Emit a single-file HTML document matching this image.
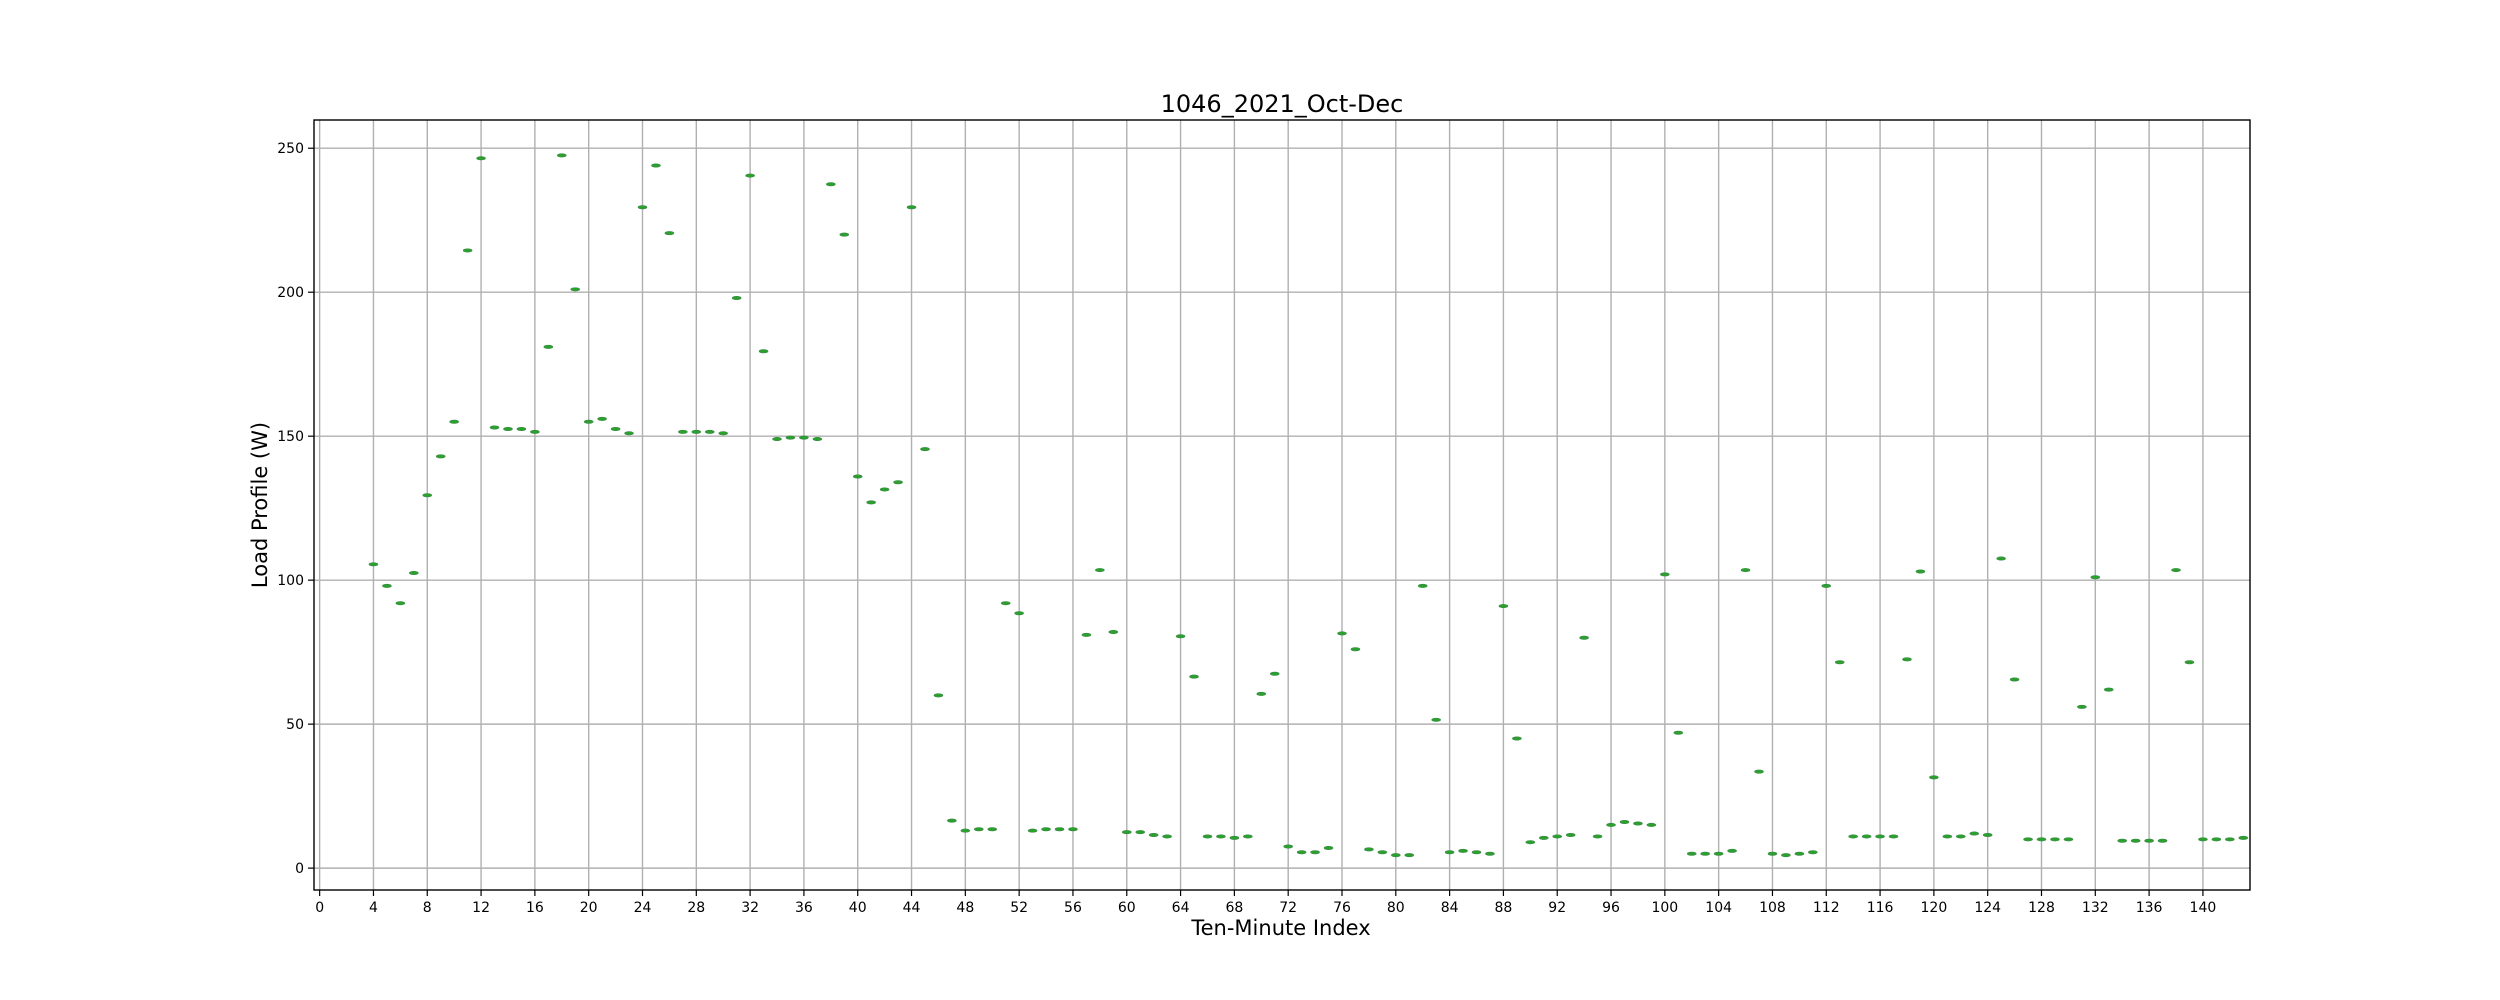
<!DOCTYPE html>
<html><head><meta charset="utf-8"><style>
html,body{margin:0;padding:0;background:#fff;width:2500px;height:1000px;overflow:hidden}
svg text{font-family:"DejaVu Sans","Liberation Sans",sans-serif;fill:#000}
</style></head><body>
<svg id="chart" width="2500" height="1000" xmlns="http://www.w3.org/2000/svg">
<rect x="0" y="0" width="2500" height="1000" fill="#fff"/>
<g id="grid"></g>
<g id="marks"></g>
<g id="axes"></g>
<text x="1282" y="112" font-size="24" text-anchor="middle">1046_2021_Oct-Dec</text>
<text x="1281" y="935" font-size="21" text-anchor="middle">Ten-Minute Index</text>
<text x="0" y="0" font-size="21" text-anchor="middle" transform="translate(267,505) rotate(-90)">Load Profile (W)</text>
</svg>
<script>
const xIndex = [4,5,6,7,8,9,10,11,12,13,14,15,16,17,18,19,20,21,22,23,24,25,26,27,28,29,30,31,32,33,34,35,36,37,38,39,40,41,42,43,44,45,46,47,48,49,50,51,52,53,54,55,56,57,58,59,60,61,62,63,64,65,66,67,68,69,70,71,72,73,74,75,76,77,78,79,80,81,82,83,84,85,86,87,88,89,90,91,92,93,94,95,96,97,98,99,100,101,102,103,104,105,106,107,108,109,110,111,112,113,114,115,116,117,118,119,120,121,122,123,124,125,126,127,128,129,130,131,132,133,134,135,136,137,138,139,140,141,142,143];
const loadValues = [105.5,98,92,102.5,129.5,143,155,214.5,246.5,153,152.5,152.5,151.5,181,247.5,201,155,156,152.5,151,229.5,244,220.5,151.5,151.5,151.5,151,198,240.5,179.5,149,149.5,149.5,149,237.5,220,136,127,131.5,134,229.5,145.5,60,16.5,13,13.5,13.5,92,88.5,13,13.5,13.5,13.5,81,103.5,82,12.5,12.5,11.5,11,80.5,66.5,11,11,10.5,11,60.5,67.5,7.5,5.5,5.5,7,81.5,76,6.5,5.5,4.5,4.5,98,51.5,5.5,6,5.5,5,91,45,9,10.5,11,11.5,80,11,15,16,15.5,15,102,47,5,5,5,6,103.5,33.5,5,4.5,5,5.5,98,71.5,11,11,11,11,72.5,103,31.5,11,11,12,11.5,107.5,65.5,10,10,10,10,56,101,62,9.5,9.5,9.5,9.5,103.5,71.5,10,10,10,10.5];
const xTicks = [0,4,8,12,16,20,24,28,32,36,40,44,48,52,56,60,64,68,72,76,80,84,88,92,96,100,104,108,112,116,120,124,128,132,136,140];
const yTicks = [0,50,100,150,200,250];

const L=314,R=2250,T=120,B=890;
const xMin=-0.42,xMax=143.5,yMin=-7.6,yMax=259.8;
const sx=v=>L+(v-xMin)/(xMax-xMin)*(R-L);
const sy=v=>B-(v-yMin)/(yMax-yMin)*(B-T);
const NS='http://www.w3.org/2000/svg';
function mk(tag,attrs,parent){const e=document.createElementNS(NS,tag);for(const k in attrs)e.setAttribute(k,attrs[k]);parent.appendChild(e);return e;}
const grid=document.getElementById('grid'),axes=document.getElementById('axes'),marks=document.getElementById('marks');

xTicks.forEach(t=>{
  const x=sx(t);
  const g=mk('line',{x1:x,x2:x,y1:T,y2:B,stroke:'#b0b0b0','stroke-width':1.4},grid);
  
  
  const tk=mk('line',{x1:x,x2:x,y1:B,y2:B+6,stroke:'#000','stroke-width':1.2},axes);
  
  
  const tl=mk('text',{x:x,y:B+22,'font-size':14,'text-anchor':'middle'},axes);
  tl.textContent=String(t);
  
  
});
yTicks.forEach(t=>{
  const y=sy(t);
  const g=mk('line',{x1:L,x2:R,y1:y,y2:y,stroke:'#b0b0b0','stroke-width':1.4},grid);
  
  
  const tk=mk('line',{x1:L-6,x2:L,y1:y,y2:y,stroke:'#000','stroke-width':1.2},axes);
  
  
  const tl=mk('text',{x:L-10,y:y+5,'font-size':14,'text-anchor':'end'},axes);
  tl.textContent=String(t);
  
  
});
const frame=mk('rect',{x:L,y:T,width:R-L,height:B-T,fill:'none',stroke:'#000','stroke-width':1.4},axes);



xIndex.forEach((xi,i)=>{
  const m=mk('ellipse',{cx:sx(xi),cy:sy(loadValues[i]),rx:4.5,ry:1.7,fill:'#2ca02c',stroke:'#3a8a4a','stroke-width':0.6},marks);
  
  
});
</script>
</body></html>
